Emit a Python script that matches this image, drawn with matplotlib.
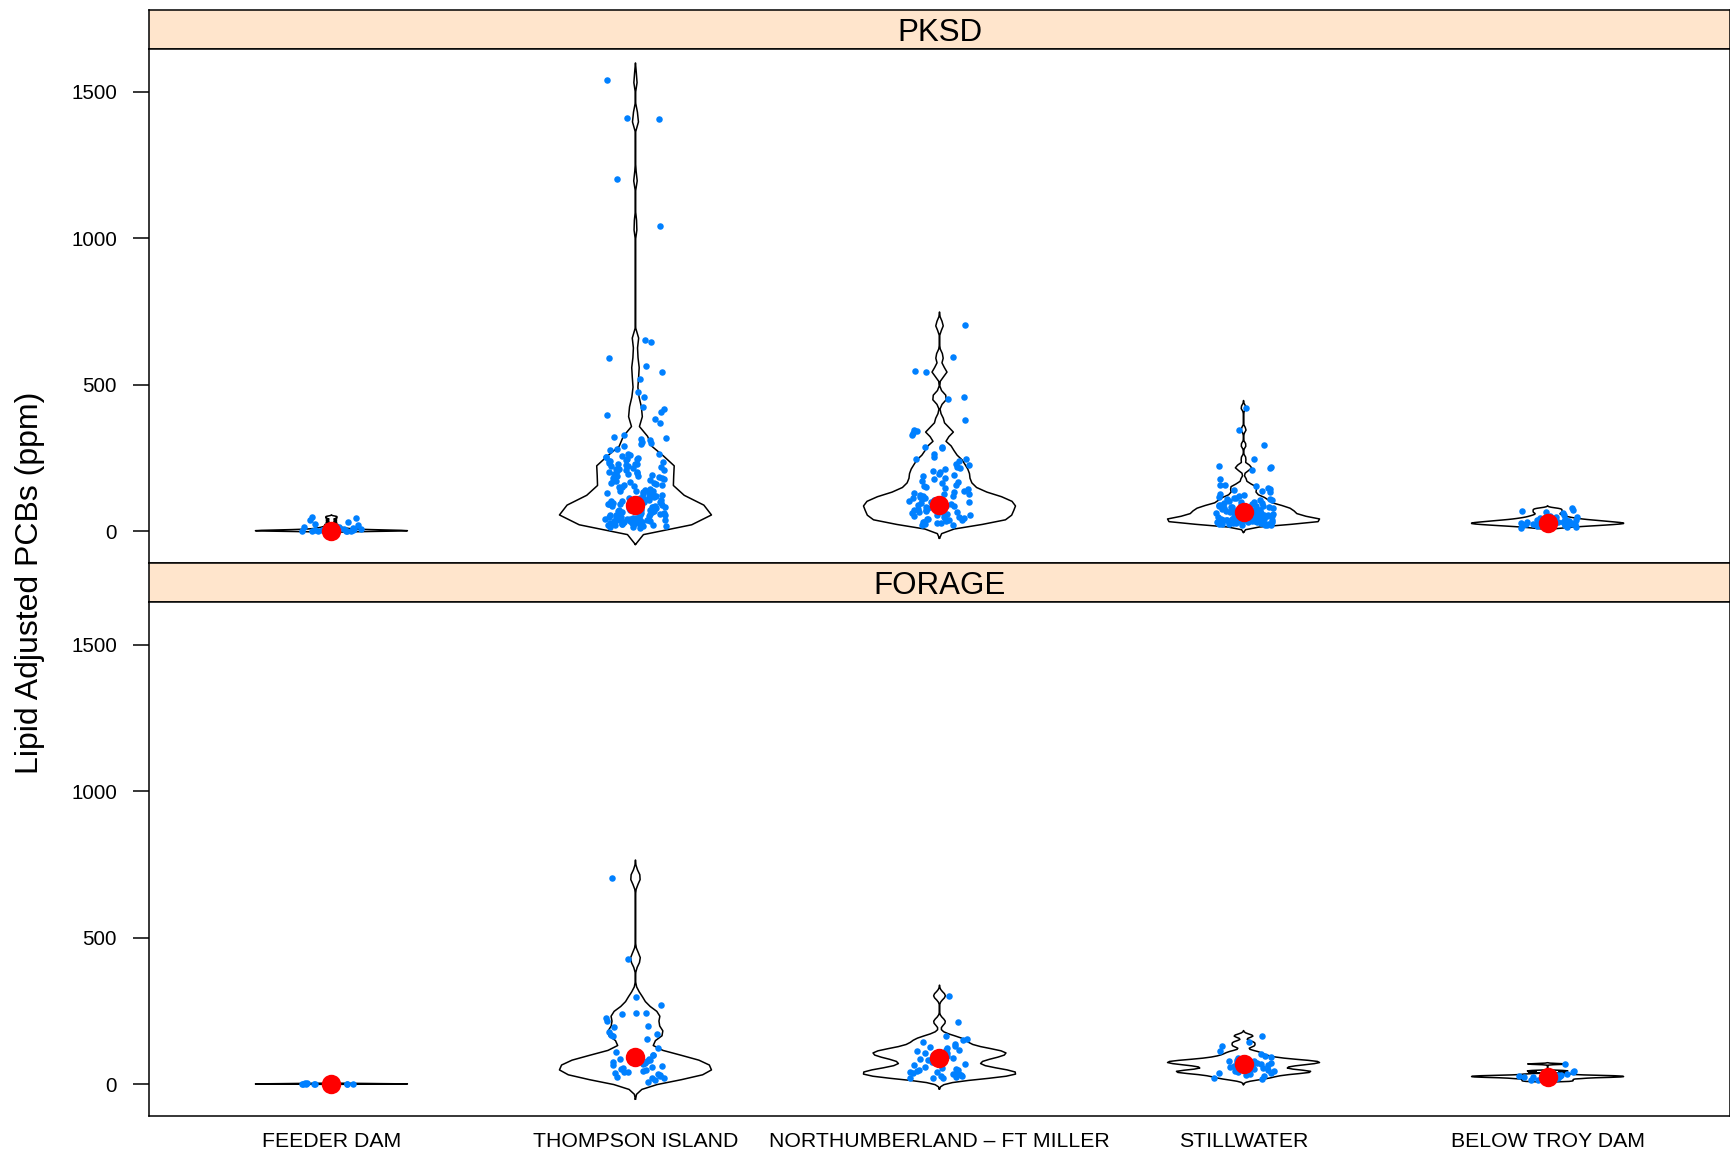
import numpy as np
import matplotlib.pyplot as plt

plt.rcParams['font.family'] = ['Liberation Sans', 'DejaVu Sans']

sites = ['FEEDER DAM', 'THOMPSON ISLAND', 'NORTHUMBERLAND \u2013 FT MILLER',
         'STILLWATER', 'BELOW TROY DAM']
panel_names = ['PKSD', 'FORAGE']

# lipid adjusted PCBs (ppm), PKSD fish
pksd_feeder = [0.3, 0.5, 0.6, 0.8, 1.0, 1.1, 1.3, 1.5, 1.8, 2.0, 2.2, 2.6, 3.0, 3.3, 3.8,
               4.2, 5.0, 5.5, 6.5, 8, 9, 11, 13, 16, 20, 24, 31, 38, 45, 50]
pksd_thompson = [1541, 1411, 1407, 1202, 1042, 653, 646, 592, 564, 544, 519, 476, 459, 424,
                 416, 407, 397, 382, 370, 328, 322, 318, 314, 311, 306, 301, 299, 292, 282, 276,
                 265, 263, 261, 258, 254, 252,
                 249, 247, 245, 243, 241, 239, 236, 234, 231, 229, 228, 226, 224, 221, 219, 216,
                 214, 213, 210, 208, 205, 203, 201, 199, 196, 194, 192, 190, 188, 186, 183, 181,
                 179, 175, 173, 171, 169, 166, 164, 162, 159, 157, 156, 152, 150, 147,
                 144, 141, 139, 137, 136, 133, 131, 130, 127, 126, 124, 121, 120, 118, 116, 115,
                 113, 111, 110, 108, 106, 104, 103, 101, 100, 98, 97, 96, 94, 93, 92, 91, 90, 90,
                 89, 88, 87, 85, 84, 83, 82, 80, 79, 78, 77, 76, 74, 73, 72, 71, 70, 69, 67, 66,
                 65, 64, 62, 61, 60, 59, 57, 56, 55, 54, 52, 51, 50, 49, 47, 46, 45, 44, 43, 42,
                 41, 40, 40, 39, 38, 37, 36, 35, 34, 33, 32, 31, 30, 29, 28, 27, 26, 25, 24, 23,
                 22, 21, 20, 18, 17, 15, 14, 12]
pksd_northumberland = [703, 595, 546, 542, 459, 452, 381, 347, 341, 336, 329, 288, 286, 283,
                       262, 255, 248, 246, 238, 231, 226, 219, 216, 211, 205, 201, 196, 192,
                       187, 183, 178, 172, 168, 163, 159, 155, 151, 147, 143, 139, 135, 131,
                       128, 126, 123, 121, 119, 117, 115, 113, 111, 109, 107, 105, 103, 101,
                       99, 97, 95, 94, 92, 90, 88, 87, 85, 83, 81, 79, 78, 76, 74, 72, 70, 68,
                       66, 64, 62, 60, 58, 56, 54, 52, 49, 47, 46, 44, 42, 41, 39, 37, 35, 33,
                       31, 29, 27, 25, 23, 21]
pksd_stillwater = [422, 347, 294, 248, 223, 220, 216, 208, 177, 157, 157, 153, 149, 145, 141,
                   137, 133, 128, 124, 119, 117, 115, 113, 111, 109, 107, 105, 103, 101, 99, 97,
                   95, 92, 90, 89, 88, 86, 86, 85, 84, 83, 82, 80, 79, 79, 77, 76, 75, 74, 72,
                   71, 71, 70, 69, 68, 67, 66, 65, 64, 63, 63, 61, 60, 59, 58, 57, 55, 55, 54,
                   53, 52, 51, 50, 49, 48, 48, 47, 46, 46, 45, 44, 44, 43, 42, 42, 41, 40, 40,
                   39, 38, 38, 37, 37, 36, 36, 35, 35, 34, 34, 33, 33, 32, 31, 31, 30, 29, 29,
                   28, 27, 26, 26, 25, 24, 23, 22, 21, 20]
pksd_belowtroy = [11, 14, 16, 18, 19, 20, 21, 22, 23, 24, 25, 25, 26, 27, 27, 28, 29, 30, 30,
                  31, 32, 33, 34, 35, 36, 37, 38, 40, 41, 43, 45, 47, 50, 53, 57, 62, 66, 70,
                  74, 78]

# lipid adjusted PCBs (ppm), forage fish
forage_feeder = [0.3, 0.5, 0.7, 0.9, 1.0, 1.2, 1.4, 1.6, 1.9, 2.2, 2.6, 3.0]
forage_thompson = [705, 428, 298, 270, 244, 244, 239, 227, 216, 200, 194, 179, 170, 168, 166,
                   154, 124, 111, 99, 99, 92, 87, 85, 82, 79, 75, 71, 70, 66, 62, 59, 55, 53,
                   50, 46, 43, 41, 38, 36, 33, 29, 25, 22, 20, 14, 9]
forage_northumberland = [302, 213, 164, 156, 151, 145, 139, 130, 126, 122, 118, 116, 113, 110,
                         108, 107, 105, 103, 100, 97, 94, 91, 88, 85, 82, 76, 70, 64, 59, 56,
                         53, 50, 47, 45, 43, 42, 40, 38, 36, 34, 31, 29, 27, 25, 23, 21, 20]
forage_stillwater = [165, 143, 131, 112, 104, 97, 92, 88, 84, 82, 80, 78, 77, 75, 74, 72, 70,
                     68, 66, 63, 60, 56, 52, 48, 46, 44, 43, 42, 40, 38, 35, 31, 27, 22, 17]
forage_belowtroy = [10, 13, 16, 19, 21, 23, 24, 25, 26, 27, 28, 29, 30, 32, 35, 41, 46, 69]

# red markers: central value per site
pksd_centers = [1, 90, 91, 67, 27]
forage_centers = [1, 93, 91, 70, 26]

# kernel bandwidth per violin
pksd_bw = [2, 19, 15, 8, 3]
forage_bw = [0.5, 20, 12, 6, 1.5]

pksd = [pksd_feeder, pksd_thompson, pksd_northumberland, pksd_stillwater, pksd_belowtroy]
forage = [forage_feeder, forage_thompson, forage_northumberland, forage_stillwater,
          forage_belowtroy]


def density_outline(vals, bw, n=50, cut=3):
    v = np.asarray(vals, dtype=float)
    grid = np.linspace(v.min() - cut * bw, v.max() + cut * bw, n)
    dens = np.exp(-0.5 * ((grid[:, None] - v[None, :]) / bw) ** 2).sum(axis=1)
    return grid, dens / dens.max()


def spread(n, seed):
    # deterministic horizontal scatter in [-0.1, 0.1]
    i = np.arange(n) + seed * 101
    h = np.sin(i * 12.9898 + 78.233) * 43758.5453
    return (h - np.floor(h) - 0.5) * 0.2


W, H = 1731, 1154
fig = plt.figure(figsize=(W / 100, H / 100), dpi=100)
left = 149 / W
width = (1730 - 149) / W


def box(top, bottom):
    return [left, 1 - bottom / H, width, (bottom - top) / H]


strip_h = 39
panel_h = 514
top0 = 9.6
layout = []
y = top0
for _ in range(2):
    layout.append((y, y + strip_h, y + strip_h + panel_h))
    y += strip_h + panel_h

for k, (groups, centers, bws) in enumerate([(pksd, pksd_centers, pksd_bw),
                                             (forage, forage_centers, forage_bw)]):
    s_top, p_top, p_bot = layout[k]

    sax = fig.add_axes(box(s_top, p_top))
    sax.set_facecolor('#ffe5cc')
    sax.set_xticks([])
    sax.set_yticks([])
    for sp in sax.spines.values():
        sp.set_linewidth(1.1)
    sax.text(0.5, 0.40, panel_names[k], ha='center', va='center', fontsize=22.5,
             transform=sax.transAxes)

    ax = fig.add_axes(box(p_top, p_bot))
    for i, vals in enumerate(groups):
        pos = i + 1
        grid, d = density_outline(vals, bws[i])
        half = 0.25 * d
        xs = np.r_[pos - half, (pos + half)[::-1], pos - half[0]]
        ys = np.r_[grid, grid[::-1], grid[0]]
        ax.plot(xs, ys, color='black', lw=1.1, zorder=2)

        jit = spread(len(vals), 10 * k + i)
        ax.scatter(pos + jit, vals, s=22, color='#0080ff', linewidths=0, zorder=3)
        ax.scatter([pos], [centers[i]], s=196, color='red', linewidths=0, zorder=4)

    ax.set_xlim(0.4, 5.6)
    ax.set_ylim(-107, 1647)
    ax.set_yticks([0, 500, 1000, 1500])
    ax.tick_params(axis='y', length=11.5, width=1.1, pad=11.5, labelsize=14.8)
    for sp in ax.spines.values():
        sp.set_linewidth(1.1)
    if k == 1:
        ax.set_xticks(range(1, 6))
        ax.set_xticklabels(sites)
        ax.tick_params(axis='x', length=0, pad=11.5, labelsize=15.3)
    else:
        ax.set_xticks([])

fig.text(30 / W, 1 - 583 / H, 'Lipid Adjusted PCBs (ppm)', rotation=90, ha='center',
         va='center', fontsize=23)

fig.savefig('out.png', dpi=100)
